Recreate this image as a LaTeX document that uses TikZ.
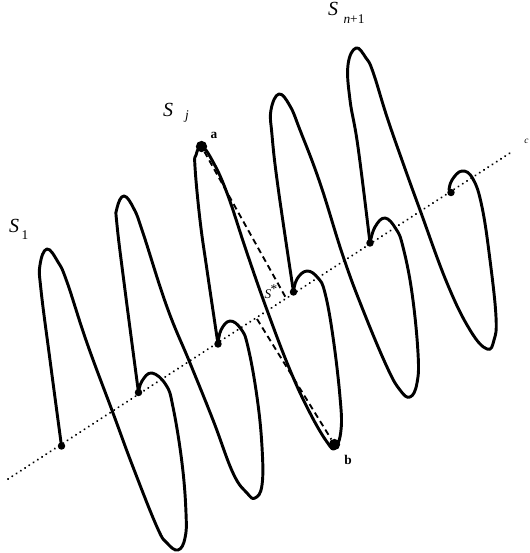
\documentclass[tikz,border=0pt]{standalone}
\usepackage{fontspec}
\setmainfont{Liberation Serif}
\begin{document}
\begin{tikzpicture}[x=0.75pt,y=-0.75pt,
  curve/.style={line width=2.2pt,line join=round,line cap=round},
  axis/.style={line width=1.6pt,dash pattern=on 0.1pt off 3.7pt,line cap=round},
  cut/.style={line width=1.4pt,dash pattern=on 4.5pt off 3pt},
  pt/.style={circle,fill=black,inner sep=0pt,minimum size=5.6pt},
  bigpt/.style={circle,fill=black,inner sep=0pt,minimum size=8.5pt},
  big/.style={font=\fontsize{15}{15}\selectfont\itshape,inner sep=0pt},
  sub/.style={font=\fontsize{10}{10}\selectfont,inner sep=0pt},
  small/.style={font=\fontsize{10}{10}\selectfont\bfseries,inner sep=0pt}]
\useasboundingbox (0,0) rectangle (530,553);
\fill[white] (0,0) rectangle (530,553);
\coordinate (axA) at (8,479);
\coordinate (axB) at (510,153);
\draw[axis] (axA) -- (axB);
\node[pt] (p1) at (61.5,446) {};
\node[pt] (p2) at (138.5,392.5) {};
\node[pt] (p3) at (218,344) {};
\node[pt] (p4) at (293.5,292) {};
\node[pt] (p5) at (370,243) {};
\node[pt] (p6) at (451,192.5) {};
\node[bigpt] (a) at (201.5,146.5) {};
\node[bigpt] (b) at (334.5,444.5) {};
\coordinate (c1) at (286,298);
\coordinate (c2) at (257,319);
\draw[cut] (a) -- (c1);
\draw[cut] (c2) -- (b);
\draw[curve] plot[smooth,tension=0.7] coordinates {
 (61.5,446) (50,360) (41,290) (40,265) (47,249) (58,262) (67,282) (87,343) (113,413) (133,467) (157,527)
 (167,543) (178,550) (185,538) (186,513) (182,463) (173,407) (166,385) (152,373) (142,381) (138.5,392.5)};
\draw[curve] plot[smooth,tension=0.7] coordinates {
 (138.5,392.5) (125,290) (117,225) (117,208) (124,196) (134,209) (143,233) (167,307) (190,363) (213,420) (233,473)
 (247,493) (255,498) (262,485) (262,447) (257,397) (248,347) (241,329) (230,321) (221,330) (218,344)};
\draw[curve] plot[smooth,tension=0.7] coordinates {
 (218,344) (207,270) (200,220) (195,167) (196,155) (201.5,146.5) (212,160) (227,193) (247,253) (267,310) (290,370) (310,413)
 (327,442) (335,448) (341,430) (340,397) (333,337) (325,293) (318,278) (307,271) (297,279) (293.5,292)};
\draw[curve] plot[smooth,tension=0.7] coordinates {
 (293.5,292) (278,187) (272,135) (271,110) (279,94) (290,106) (300,130) (320,183) (343,256)
 (363,310) (387,367) (400,390) (410,397) (417,383) (418,353) (412,293) (403,247) (396,229) (385,218) (375,227) (370,243)};
\draw[curve] plot[smooth,tension=0.7] coordinates {
 (370,243) (358,147) (350,100) (348,65) (356,48) (366,58) (373,72) (387,117) (403,163) (420,210)
 (447,283) (470,330) (487,349) (494,340) (496,317) (490,260) (482,207) (473,179) (462,171) (452,180) (449,190)};
\node[big,anchor=center] (l1) at (14,226) {S};
\node[sub,anchor=center] (l1s) at (25,235) {1};
\node[big,anchor=center] (lj) at (168,110) {S};
\node[sub,anchor=center,font=\fontsize{10}{10}\selectfont\itshape] (ljs) at (187,117) {j};
\node[big,anchor=center] (ln) at (333,9) {S};
\node[sub,anchor=center] (lns) at (354,19) {\textit{n}+1};
\node[small,anchor=center] (la) at (214,135) {a};
\node[small,anchor=center] (lb) at (348,460) {b};
\node[anchor=center,font=\fontsize{10}{10}\selectfont\itshape,inner sep=0pt] (ls) at (268,294) {S};
\node[anchor=center,font=\fontsize{10}{10}\selectfont,inner sep=0pt] (lst) at (274,289) {*};
\node[anchor=center,font=\fontsize{7}{7}\selectfont\itshape,inner sep=0pt] (lc) at (526.5,141) {c};
\end{tikzpicture}
\end{document}
